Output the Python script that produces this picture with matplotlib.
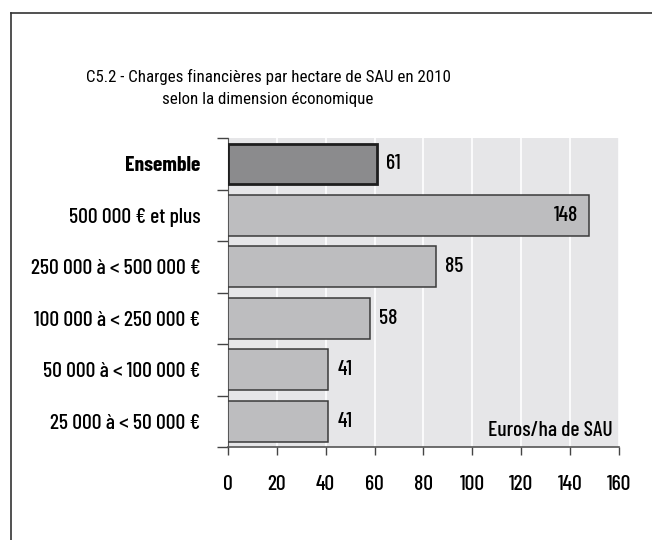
import numpy as np
import matplotlib.pyplot as plt
from matplotlib.lines import Line2D

categories = ["Ensemble", "500 000 € et plus", "250 000 à < 500 000 €",
              "100 000 à < 250 000 €", "50 000 à < 100 000 €", "25 000 à < 50 000 €"]
values = [61, 148, 85, 58, 41, 41]
xticks = [0, 20, 40, 60, 80, 100, 120, 140, 160]

LBL = ["Barlow Condensed", "DejaVu Sans"]
TTL = ["Roboto Condensed", "DejaVu Sans"]
plt.rcParams['font.family'] = LBL
FS = 15.5

fig = plt.figure(figsize=(6.52, 5.4), dpi=100)
ax = fig.add_axes([0.3497, 0.1722, 0.5992, 0.5722])

# frame around the figure (opens to right/bottom)
fig.add_artist(Line2D([11 / 652, 1], [1 - 13 / 540] * 2, color="#333333", lw=1.2))
fig.add_artist(Line2D([11 / 652] * 2, [0, 1 - 13 / 540], color="#333333", lw=1.2))

ax.set_facecolor("#e6e6e8")
y = np.arange(len(categories))
for i, v in enumerate(values):
    if i == 0:
        ax.barh(i, v, height=0.78, color="#8b8b8d", edgecolor="#1e1e1e", linewidth=2, zorder=3)
    else:
        ax.barh(i, v, height=0.8, color="#bdbdbf", edgecolor="#3a3a3a", linewidth=1.1, zorder=3)
    if v > 120:
        ax.text(v - 4.5, i, str(v), ha="right", va="center", fontsize=FS, fontweight=500, zorder=4)
    else:
        ax.text(v + 3.7, i, str(v), ha="left", va="center", fontsize=FS, fontweight=500, zorder=4)

ax.set_xlim(0, 160)
ax.set_ylim(len(categories) - 0.5, -0.5)
ax.set_xticks(xticks)
ax.set_xticklabels([str(t) for t in xticks], fontsize=FS, fontweight=500)
ax.xaxis.grid(True, color="white", lw=1.2, zorder=0)
ax.set_axisbelow(True)

ax.set_yticks(y)
ax.set_yticklabels(categories, fontsize=FS, fontweight=500)
ax.get_yticklabels()[0].set_fontweight("bold")
ax.set_yticks(np.arange(len(categories) + 1) - 0.5, minor=True)
ax.tick_params(axis="y", which="major", length=0, pad=20)
ax.tick_params(axis="y", which="minor", length=8, width=1, color="#444444")
ax.tick_params(axis="x", length=6, width=1, color="#444444", pad=14)

for s in ["top", "right"]:
    ax.spines[s].set_visible(False)
ax.spines["left"].set_color("#555555")
ax.spines["bottom"].set_color("#555555")
ax.spines["bottom"].set_linewidth(1.2)

ax.text(0.985, 0.055, "Euros/ha de SAU", transform=ax.transAxes, ha="right", va="center",
        fontsize=FS, fontweight=500, zorder=4)

fig.text(268 / 652, 1 - 77 / 540, "C5.2 - Charges financières par hectare de SAU en 2010",
         ha="center", va="center", fontsize=12.2, family=TTL)
fig.text(268 / 652, 1 - 100 / 540, "selon la dimension économique",
         ha="center", va="center", fontsize=12.2, family=TTL)

fig.savefig("out.png", dpi=100)
